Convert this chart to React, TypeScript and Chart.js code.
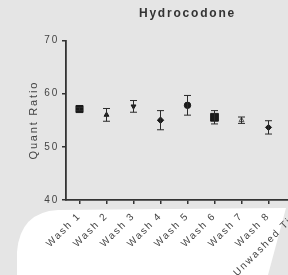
import React, { useEffect, useRef } from "react";
import { Chart, registerables } from "chart.js";

Chart.register(...registerables);

const titleText = "Hydrocodone";
const yAxisTitle = "Quant Ratio";
const categories = [
  "Wash 1",
  "Wash 2",
  "Wash 3",
  "Wash 4",
  "Wash 5",
  "Wash 6",
  "Wash 7",
  "Wash 8",
  "Unwashed Tip",
];
const means: (number | null)[] = [57.1, 56.0, 57.6, 55.0, 57.8, 55.55, 55.0, 53.65, null];
const sds: (number | null)[] = [0.3, 1.2, 1.1, 1.8, 1.85, 1.25, 0.6, 1.25, null];
const yMin = 40;
const yMax = 70;
const yStep = 10;

const pointShapes = ["rect", "triangle", "triangle", "rectRot", "circle", "rect", "triangle", "rectRot", "circle"];
const pointRotations = [0, 0, 180, 0, 0, 0, 0, 0, 0];
const pointRadii = [5, 2.8, 2.8, 3.2, 3.2, 5.5, 2.8, 3, 3];
const pointFills = ["#1a1a1a", "#1a1a1a", "#1a1a1a", "#1a1a1a", "#1a1a1a", "#1a1a1a", "#e5e5e5", "#1a1a1a", "#1a1a1a"];
const pointBorders = ["#1a1a1a", "#1a1a1a", "#1a1a1a", "#1a1a1a", "#1a1a1a", "#1a1a1a", "#555555", "#1a1a1a", "#1a1a1a"];

const BG = "#e5e5e5";
const FONT = "'Liberation Sans', Arial, sans-serif";

const spacingPlugin = {
  id: "spacing",
  beforeUpdate(chart: any) {
    chart.ctx.letterSpacing = "1.8px";
  },
  beforeLayout(chart: any) {
    chart.ctx.letterSpacing = "1.8px";
  },
  beforeDraw(chart: any) {
    chart.ctx.letterSpacing = "1.8px";
  },
};

const backgroundPlugin = {
  id: "bgShape",
  beforeDraw(chart: any) {
    const ctx = chart.ctx;
    ctx.save();
    ctx.fillStyle = BG;
    ctx.fillRect(0, 0, chart.width, chart.height);
    ctx.fillStyle = "#ffffff";
    ctx.beginPath();
    ctx.moveTo(17, 275);
    ctx.lineTo(17, 252);
    ctx.quadraticCurveTo(20, 212, 58, 210);
    ctx.lineTo(286, 208);
    ctx.lineTo(268, 275);
    ctx.closePath();
    ctx.fill();
    ctx.restore();
  },
};

const errorBarPlugin = {
  id: "errorBars",
  afterDatasetsDraw(chart: any) {
    const ctx = chart.ctx;
    const meta = chart.getDatasetMeta(0);
    const y = chart.scales.y;
    ctx.save();
    ctx.strokeStyle = "#2a2a2a";
    ctx.lineWidth = 1;
    meta.data.forEach((pt: any, i: number) => {
      const m = means[i];
      const s = sds[i];
      if (m == null || s == null) return;
      const x = pt.x;
      const yt = y.getPixelForValue(m + s);
      const yb = y.getPixelForValue(m - s);
      ctx.beginPath();
      ctx.moveTo(x, yt);
      ctx.lineTo(x, yb);
      ctx.moveTo(x - 3.5, yt);
      ctx.lineTo(x + 3.5, yt);
      ctx.moveTo(x - 3.5, yb);
      ctx.lineTo(x + 3.5, yb);
      ctx.stroke();
    });
    ctx.restore();
  },
};

export default function App() {
  const ref = useRef<HTMLCanvasElement | null>(null);

  useEffect(() => {
    if (!ref.current) return;
    const chart = new Chart(ref.current, {
      type: "line",
      data: {
        labels: categories,
        datasets: [
          {
            data: means,
            showLine: false,
            pointStyle: pointShapes as any,
            rotation: pointRotations,
            pointRadius: pointRadii,
            pointBackgroundColor: pointFills,
            pointBorderColor: pointBorders,
            pointBorderWidth: 1,
          },
        ],
      },
      options: {
        animation: false,
        responsive: true,
        maintainAspectRatio: false,
        layout: { padding: { left: 0, right: 11, top: 0, bottom: 0 } },
        plugins: {
          legend: { display: false },
          tooltip: { enabled: false },
          title: {
            display: true,
            text: titleText,
            fullSize: false,
            color: "#333333",
            font: { family: FONT, size: 12, weight: "bold" },
            padding: { top: 6, bottom: 20 },
          },
        },
        scales: {
          x: {
            type: "category",
            offset: true,
            afterFit: (s: any) => {
              s.height = 75;
            },
            grid: {
              display: true,
              drawOnChartArea: false,
              drawTicks: true,
              tickLength: 4,
              color: "#333333",
              lineWidth: 1.5,
              offset: false,
            },
            border: { display: true, color: "#333333", width: 1.8 },
            ticks: {
              autoSkip: false,
              maxRotation: 45,
              minRotation: 45,
              padding: 6,
              color: "#444444",
              font: { family: FONT, size: 10 },
            },
          },
          y: {
            min: yMin,
            max: yMax,
            afterFit: (s: any) => {
              s.width = 66;
            },
            grid: {
              display: true,
              drawOnChartArea: false,
              drawTicks: true,
              tickLength: 4,
              color: "#333333",
              lineWidth: 1.5,
            },
            border: { display: true, color: "#333333", width: 1.8 },
            ticks: {
              stepSize: yStep,
              padding: 3,
              color: "#444444",
              font: { family: FONT, size: 10 },
            },
            title: {
              display: true,
              text: yAxisTitle,
              color: "#444444",
              font: { family: FONT, size: 11 },
              padding: { top: 27, bottom: 0 },
            },
          },
        },
      },
      plugins: [spacingPlugin, backgroundPlugin, errorBarPlugin],
    });
    return () => chart.destroy();
  }, []);

  return (
    <div
      style={{
        position: "fixed",
        left: 0,
        top: 0,
        width: 288,
        height: 275,
        overflow: "hidden",
        background: BG,
      }}
    >
      <div style={{ position: "relative", width: 320, height: 275 }}>
        <canvas ref={ref} />
      </div>
    </div>
  );
}
